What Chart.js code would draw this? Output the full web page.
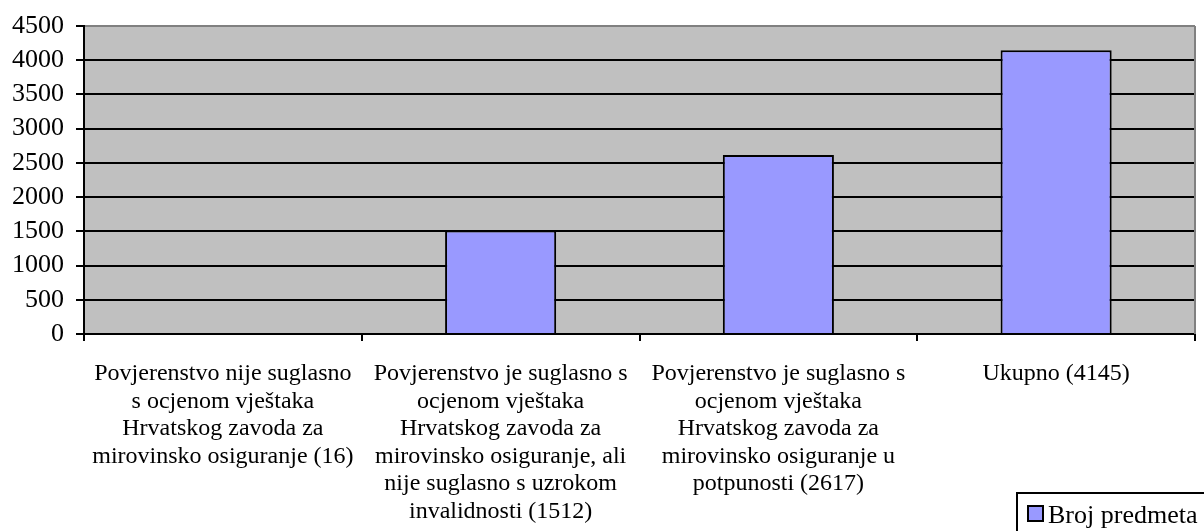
<!DOCTYPE html>
<html>
<head>
<meta charset="utf-8">
<script src="https://cdn.jsdelivr.net/npm/chart.js@4"></script>
<style>
  html, body { margin: 0; padding: 0; background: #fff; }
  #wrap { width: 1204px; height: 531px; }
</style>
</head>
<body>
<div id="wrap"><canvas id="myChart" width="1204" height="531"></canvas></div>
<script>
const categories = [
  ['Povjerenstvo nije suglasno', 's ocjenom vještaka', 'Hrvatskog zavoda za', 'mirovinsko osiguranje (16)'],
  ['Povjerenstvo je suglasno s', 'ocjenom vještaka', 'Hrvatskog zavoda za', 'mirovinsko osiguranje, ali', 'nije suglasno s uzrokom', 'invalidnosti (1512)'],
  ['Povjerenstvo je suglasno s', 'ocjenom vještaka', 'Hrvatskog zavoda za', 'mirovinsko osiguranje u', 'potpunosti (2617)'],
  ['Ukupno (4145)']
];
const brojPredmeta = [16, 1512, 2617, 4145];
const seriesName = 'Broj predmeta';
const yTicks = { min: 0, max: 4500, step: 500 };

const serif = "'Liberation Serif', 'Times New Roman', serif";

// gray plot background + right border, and the boxed legend bottom right
const plotBg = {
  id: 'plotBg',
  beforeDraw(chart) {
    const a = chart.chartArea, c = chart.ctx;
    c.save();
    c.fillStyle = '#C0C0C0';
    c.fillRect(a.left, a.top, a.right - a.left, a.bottom - a.top);
    c.restore();
  },
  afterDraw(chart) {
    const a = chart.chartArea, c = chart.ctx;
    c.save();
    c.strokeStyle = '#808080';
    c.lineWidth = 2;
    c.beginPath();
    c.moveTo(a.right, a.top);
    c.lineTo(a.right, a.bottom);
    c.stroke();

    // legend (box runs off the bottom right like the original)
    const ds = chart.data.datasets[0];
    const bx = 1017, by = 493;
    c.fillStyle = '#fff';
    c.fillRect(bx, by, 200, 50);
    c.strokeStyle = '#000';
    c.lineWidth = 2;
    c.strokeRect(bx, by, 200, 50);
    c.fillStyle = ds.backgroundColor;
    c.fillRect(bx + 11, by + 13, 15, 15);
    c.strokeRect(bx + 11, by + 13, 15, 15);
    c.fillStyle = '#000';
    c.font = '26px ' + serif;
    c.textBaseline = 'alphabetic';
    c.fillText(ds.label, bx + 31, 523);
    c.restore();
  }
};

const ctx = document.getElementById('myChart');
new Chart(ctx, {
  type: 'bar',
  data: {
    labels: categories,
    datasets: [{
      label: seriesName,
      data: brojPredmeta,
      backgroundColor: '#9999FF',
      borderColor: '#000',
      borderWidth: 2,
      barPercentage: 0.4,
      categoryPercentage: 1
    }]
  },
  options: {
    responsive: false,
    animation: false,
    layout: { padding: { top: 26, right: 9, left: 0, bottom: 0 } },
    plugins: {
      legend: { display: false },
      tooltip: { enabled: false }
    },
    scales: {
      y: {
        min: yTicks.min,
        max: yTicks.max,
        afterFit(scale) { scale.width = 84; },
        ticks: {
          stepSize: yTicks.step,
          autoSkip: false,
          maxTicksLimit: 20,
          color: '#000',
          padding: 12,
          font: { family: serif, size: 26, lineHeight: 1 },
          callback: v => String(v)
        },
        grid: {
          color: c => c.tick && c.tick.value === yTicks.max ? '#808080' : '#000',
          lineWidth: 2,
          tickColor: '#000',
          tickLength: 8
        },
        border: { color: '#000', width: 2 }
      },
      x: {
        afterFit(scale) { scale.height = 197; },
        ticks: {
          color: '#000',
          padding: 19,
          maxRotation: 0,
          autoSkip: false,
          font: { family: serif, size: 24, lineHeight: 1.15 }
        },
        grid: {
          drawOnChartArea: false,
          tickColor: '#000',
          tickLength: 7,
          lineWidth: 2
        },
        border: { color: '#000', width: 2 }
      }
    }
  },
  plugins: [plotBg]
});
</script>
</body>
</html>
